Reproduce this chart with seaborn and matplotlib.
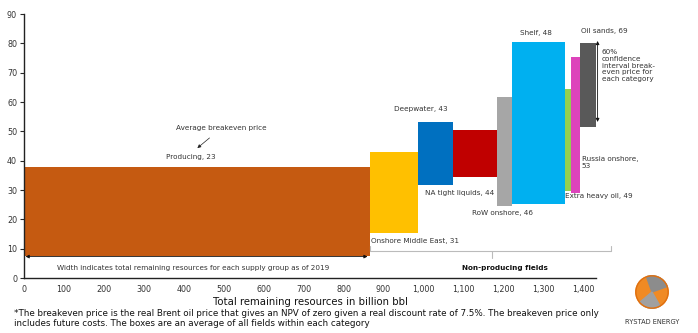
import numpy as np
import pandas as pd
import matplotlib
matplotlib.use("Agg")
import matplotlib.pyplot as plt
import seaborn as sns
from matplotlib.patches import Circle, Wedge

# ---------------- data ----------------
categories = ["Producing", "Onshore Middle East", "Deepwater", "NA tight liquids",
              "RoW onshore", "Shelf", "Extra heavy oil", "Russia onshore", "Oil sands"]
resources = [867, 120, 88, 110, 37, 133, 15, 22, 40]          # billion bbl (box widths)
low_price = [7.5, 15.4, 31.7, 34.5, 24.6, 25.3, 29.7, 29.0, 51.5]   # USD/bbl box bottom
high_price = [38.0, 43.0, 53.2, 50.5, 61.8, 80.5, 64.5, 75.4, 80.2]  # USD/bbl box top
avg_breakeven = [23, 31, 43, 44, 46, 48, 49, 53, 69]
colors = ["#C55A11", "#FFC000", "#0070C0", "#C00000", "#A6A6A6",
          "#00B0F0", "#92D050", "#DD44BB", "#595959"]
x_ticks = [0, 100, 200, 300, 400, 500, 600, 700, 800, 900, 1000, 1100, 1200, 1300, 1400]
y_ticks = [0, 10, 20, 30, 40, 50, 60, 70, 80, 90]

df = pd.DataFrame({"category": categories, "resources": resources,
                   "low": low_price, "high": high_price, "avg": avg_breakeven,
                   "color": colors})
df["left"] = df["resources"].cumsum() - df["resources"]

sns.set_style("white")
plt.rcParams["font.family"] = ["DejaVu Sans"]
txt = "#333333"

fig = plt.figure(figsize=(6.98, 3.33), dpi=100)
ax = fig.add_axes([24 / 698, 1 - 278 / 333, 572 / 698, 264 / 333])

ax.bar(df["left"], df["high"] - df["low"], width=df["resources"], bottom=df["low"],
       align="edge", color=df["color"], linewidth=0)

ax.set_xlim(0, df["resources"].sum())
ax.set_ylim(0, 90)
ax.set_xticks(x_ticks)
ax.set_xticklabels([f"{v:,}" for v in x_ticks])
ax.set_yticks(y_ticks)
ax.tick_params(axis="x", length=0, pad=5, labelsize=5.8, labelcolor=txt)
ax.tick_params(axis="y", length=3, width=0.8, direction="out", left=True, pad=2,
               labelsize=5.8, labelcolor=txt)
sns.despine(ax=ax)
for s in ["left", "bottom"]:
    ax.spines[s].set_color("#222222")
    ax.spines[s].set_linewidth(1.0)

fs = 5.2
# category labels
lab = dict(fontsize=fs, color=txt)
ax.text(356, 41.3, f"{categories[0]}, {avg_breakeven[0]}", ha="left", va="center", **lab)
ax.text(869, 12.6, f"{categories[1]}, {avg_breakeven[1]}", ha="left", va="center", **lab)
ax.text(926, 57.6, f"{categories[2]}, {avg_breakeven[2]}", ha="left", va="center", **lab)
ax.text(1004, 29.0, f"{categories[3]}, {avg_breakeven[3]}", ha="left", va="center", **lab)
ax.text(1121, 22.2, f"{categories[4]}, {avg_breakeven[4]}", ha="left", va="center", **lab)
ax.text(1281, 83.5, f"{categories[5]}, {avg_breakeven[5]}", ha="center", va="center", **lab)
ax.text(1354, 28.0, f"{categories[6]}, {avg_breakeven[6]}", ha="left", va="center", **lab)
ax.text(1396, 41.5, f"{categories[7]},\n{avg_breakeven[7]}", ha="left", va="top",
        linespacing=1.1, clip_on=False, **lab)
ax.text(1394, 84.2, f"{categories[8]}, {avg_breakeven[8]}", ha="left", va="center",
        clip_on=False, **lab)

# average breakeven annotation
ax.annotate("Average breakeven price", xy=(434, 44.3), xytext=(494, 51.1),
            ha="center", va="center", fontsize=fs, color=txt,
            arrowprops=dict(arrowstyle="-|>", color="#222222", lw=0.5,
                            mutation_scale=5, shrinkA=4, shrinkB=0))

# width double arrow
ax.annotate("", xy=(4, 7.3), xytext=(860, 7.3),
            arrowprops=dict(arrowstyle="<|-|>", color="#111111", lw=0.6,
                            mutation_scale=5, shrinkA=0, shrinkB=0))
ax.text(424, 3.4, "Width indicates total remaining resources for each supply group as of 2019",
        ha="center", va="center", **lab)

# non-producing bracket
br = "#BBBBBB"
ax.plot([866, 866, 1469, 1469], [10.9, 9.2, 9.2, 10.9], color=br, lw=0.8, clip_on=False)
ax.plot([1171, 1171], [9.2, 6.8], color=br, lw=0.8, clip_on=False)
ax.text(1205, 3.4, "Non-producing fields", ha="center", va="center", fontsize=fs,
        fontweight="bold", color="#111111")

# confidence interval arrow
ax.annotate("", xy=(1436, 80.8), xytext=(1436, 53.2), annotation_clip=False,
            arrowprops=dict(arrowstyle="<|-|>", color="#111111", lw=0.6,
                            mutation_scale=5, shrinkA=0, shrinkB=0))
ax.text(1446, 78.0, "60%\nconfidence\ninterval break-\neven price for\neach category",
        ha="left", va="top", linespacing=1.15, clip_on=False, **lab)

# x label & footnote
fig.text(310 / 698, 1 - 302 / 333, "Total remaining resources in billion bbl",
         ha="center", va="center", fontsize=7.25, color="#111111")
fig.text(14 / 698, 1 - 318.5 / 333,
         "*The breakeven price is the real Brent oil price that gives an NPV of zero given a real discount rate of 7.5%. The breakeven price only\n"
         "includes future costs. The boxes are an average of all fields within each category",
         ha="left", va="center", fontsize=6.3, color="#111111", linespacing=1.0)

# logo
lax = fig.add_axes([622 / 698, 1 - 309 / 333, 60 / 698, 34 / 333])
lax.set_xlim(-1, 1)
lax.set_ylim(-1, 1)
lax.set_aspect("equal")
lax.axis("off")
lax.add_patch(Circle((0, 0), 0.95, color="#F08A24"))
lax.add_patch(Wedge((0, 0), 0.95, 20, 110, color="#8C8C8C"))
lax.add_patch(Wedge((0, 0), 0.95, 220, 300, color="#A0A0A0"))
lax.add_patch(Circle((0, 0), 0.95, fill=False, ec="#E07010", lw=1))
fig.text(652 / 698, 1 - 322 / 333, "RYSTAD ENERGY", ha="center", va="center",
         fontsize=4.8, color="#333333")

fig.savefig("out.png", dpi=100)
